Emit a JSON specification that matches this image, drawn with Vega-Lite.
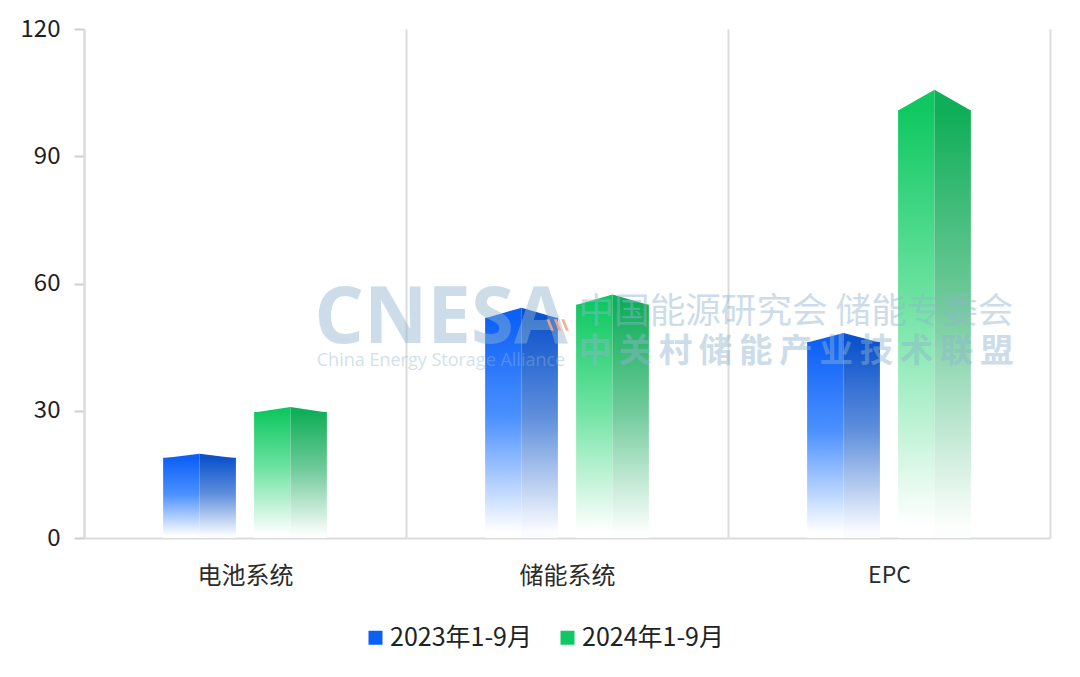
{
"$schema":"https://vega.github.io/schema/vega-lite/v6.json",
"width":966,"height":509,
"autosize":{"type":"none"},
"padding":{"left":84,"top":29,"right":30,"bottom":139},
"background":"white",
"config":{"view":{"stroke":null},"font":"Noto Sans CJK SC"},
"datasets":{
"bars":[
{"category":"电池系统","series":"2023年1-9月","face":"2023L","side":"L","value":18.9,"peak":19.8},
{"category":"电池系统","series":"2023年1-9月","face":"2023R","side":"R","value":18.9,"peak":19.8},
{"category":"电池系统","series":"2024年1-9月","face":"2024L","side":"L","value":29.7,"peak":30.9},
{"category":"电池系统","series":"2024年1-9月","face":"2024R","side":"R","value":29.7,"peak":30.9},
{"category":"储能系统","series":"2023年1-9月","face":"2023L","side":"L","value":51.9,"peak":54.2},
{"category":"储能系统","series":"2023年1-9月","face":"2023R","side":"R","value":51.9,"peak":54.2},
{"category":"储能系统","series":"2024年1-9月","face":"2024L","side":"L","value":55,"peak":57.3},
{"category":"储能系统","series":"2024年1-9月","face":"2024R","side":"R","value":55,"peak":57.3},
{"category":"EPC","series":"2023年1-9月","face":"2023L","side":"L","value":46.2,"peak":48.3},
{"category":"EPC","series":"2023年1-9月","face":"2023R","side":"R","value":46.2,"peak":48.3},
{"category":"EPC","series":"2024年1-9月","face":"2024L","side":"L","value":100.9,"peak":105.6},
{"category":"EPC","series":"2024年1-9月","face":"2024R","side":"R","value":100.9,"peak":105.6}
]},
"encoding":{
"x":{"field":"category","type":"nominal","sort":["电池系统","储能系统","EPC"],
"scale":{"domain":["电池系统","储能系统","EPC"],"paddingInner":0,"paddingOuter":0},
"axis":{"title":null,"labelAngle":0,"tickBand":"extent","grid":true,"gridColor":"#dcdcdc","gridWidth":2,"domainColor":"#dcdcdc","domainWidth":2,"ticks":false,"labelPadding":26,"labelColor":"#2b2b2b","labelFontSize":{"condition":{"test":"datum.label=='EPC'","value":23},"value":24},"labelFont":"Noto Sans CJK SC","zindex":0,
"encode":{"labels":{"update":{"dy":{"signal":"datum.label=='EPC'?-5:0"}}}}}},
"y":{"field":"value","type":"quantitative","scale":{"domain":[0,120],"nice":false},
"axis":{"title":null,"values":[0,30,60,90,120],"grid":false,"domainColor":"#dcdcdc","domainWidth":2,"tickColor":"#cfcfcf","tickWidth":2,"tickSize":10,"labelPadding":14,"labelFontSize":24,"labelColor":"#1f1f1f","labelFont":"Noto Sans CJK SC","zindex":0}}
},
"layer":[
{"data":{"name":"bars"},"transform":[{"filter":"datum.face=='2023L'"}],
"mark":{"type":"bar","width":36.4,"color":{"gradient":"linear","x1":0,"y1":0,"x2":0,"y2":1,"stops":[{"offset":0,"color":"#0d60f6"},{"offset":0.45,"color":"#4a90ff"},{"offset":0.97,"color":"#ffffff"}]}},
"encoding":{"y2":{"datum":0},"xOffset":{"field":"face","type":"nominal","scale":{"domain":["o1","o2","o3","o4","2023L","s1","2023R","s2","s3","2024L","s4","2024R","o5","o6","o7","o8"],"paddingInner":0,"paddingOuter":0.85}}}},
{"data":{"name":"bars"},"transform":[{"filter":"datum.face=='2024L'"}],
"mark":{"type":"bar","width":36.4,"color":{"gradient":"linear","x1":0,"y1":0,"x2":0,"y2":1,"stops":[{"offset":0,"color":"#10c862"},{"offset":0.45,"color":"#6fe3a2"},{"offset":0.97,"color":"#ffffff"}]}},
"encoding":{"y2":{"datum":0},"xOffset":{"field":"face","type":"nominal"}}},
{"data":{"name":"bars"},"transform":[{"filter":"datum.face=='2023R'"}],
"mark":{"type":"bar","width":36.4,"color":{"gradient":"linear","x1":0,"y1":0,"x2":0,"y2":1,"stops":[{"offset":0,"color":"#0b52cc"},{"offset":0.45,"color":"#5f8fdc"},{"offset":0.97,"color":"#fafcff"}]}},
"encoding":{"y2":{"datum":0},"xOffset":{"field":"face","type":"nominal"}}},
{"data":{"name":"bars"},"transform":[{"filter":"datum.face=='2024R'"}],
"mark":{"type":"bar","width":36.4,"color":{"gradient":"linear","x1":0,"y1":0,"x2":0,"y2":1,"stops":[{"offset":0,"color":"#0fae58"},{"offset":0.45,"color":"#6fca9a"},{"offset":0.97,"color":"#fbfefc"}]}},
"encoding":{"y2":{"datum":0},"xOffset":{"field":"face","type":"nominal"}}},
{"data":{"name":"bars"},"transform":[{"filter":"datum.side=='L'"}],"mark":{"type":"point","filled":true,"size":1325,"opacity":1,"strokeWidth":0},
"encoding":{
"xOffset":{"field":"face","type":"nominal"},
"color":{"field":"series","type":"nominal","scale":{"domain":["2023年1-9月","2024年1-9月"],"range":["#0d60f6","#10c862"]},
"legend":{"orient":"none","legendX":279,"legendY":596,"direction":"horizontal","title":null,"symbolType":"square","symbolSize":196,"symbolStrokeWidth":0,"labelFontSize":25,"labelColor":"#222222","labelFont":"Noto Sans CJK SC","columnPadding":23,"labelOffset":2,
"encode":{"symbols":{"update":{"fill":{"signal":"datum.value=='2023年1-9月' ? {gradient:'linear',x1:0,y1:0,x2:0,y2:1,stops:[{offset:0,color:'#0d60f6'},{offset:1,color:'#dbe8fd'}]} : {gradient:'linear',x1:0,y1:0,x2:0,y2:1,stops:[{offset:0,color:'#10c862'},{offset:1,color:'#d8f6e5'}]}"}},"fill":{"signal":"datum.value=='2023年1-9月' ? {gradient:'linear',x1:0,y1:0,x2:0,y2:1,stops:[{offset:0,color:'#0d60f6'},{offset:1,color:'#dbe8fd'}]} : {gradient:'linear',x1:0,y1:0,x2:0,y2:1,stops:[{offset:0,color:'#10c862'},{offset:1,color:'#d8f6e5'}]}"}}}}},
"shape":{"field":"peak","type":"nominal","legend":null,"scale":{"domain":[19.8,30.9,54.2,57.3,48.3,105.6],"range":[
"M-1,0.02L1,-0.22L1,0.02Z","M-1,0.02L1,-0.28L1,0.02Z","M-1,0.02L1,-0.56L1,0.02Z","M-1,0.02L1,-0.56L1,0.02Z","M-1,0.02L1,-0.5L1,0.02Z","M-1,0.02L1,-1.11L1,0.02Z"]}}}},
{"data":{"name":"bars"},"transform":[{"filter":"datum.side=='R'"}],"mark":{"type":"point","filled":true,"size":1325,"opacity":1,"strokeWidth":0},
"encoding":{
"xOffset":{"field":"face","type":"nominal"},
"color":{"field":"series","type":"nominal","legend":null,"scale":{"domain":["2023年1-9月","2024年1-9月"],"range":["#0b52cc","#0fae58"]}},
"shape":{"field":"peak","type":"nominal","legend":null,"scale":{"domain":[19.8,30.9,54.2,57.3,48.3,105.6],"range":[
"M-1,-0.22L1,0.02L-1,0.02Z","M-1,-0.28L1,0.02L-1,0.02Z","M-1,-0.56L1,0.02L-1,0.02Z","M-1,-0.56L1,0.02L-1,0.02Z","M-1,-0.5L1,0.02L-1,0.02Z","M-1,-1.11L1,0.02L-1,0.02Z"]}}}},
{"data":{"values":[{"category":"储能系统","value":51.3,"text":"CNESA"}]},
"mark":{"type":"text","font":"Open Sans","fontWeight":"bold","fontSize":78,"color":"#8fb5d0","opacity":0.45,"dx":-126,"align":"center","baseline":"middle"},
"encoding":{"text":{"field":"text"}}},
{"data":{"values":[{"category":"储能系统","value":41.8,"text":"China Energy Storage Alliance"}]},
"mark":{"type":"text","font":"Open Sans","fontSize":18,"color":"#8fb5d0","opacity":0.4,"dx":-126,"align":"center","baseline":"middle"},
"encoding":{"text":{"field":"text"}}},
{"data":{"values":[{"category":"储能系统","value":53.3,"text":"中国能源研究会  储能专委会"}]},
"mark":{"type":"text","font":"Noto Sans CJK SC","fontSize":35.6,"color":"#8fb5d0","opacity":0.45,"dx":229,"align":"center","baseline":"middle"},
"encoding":{"text":{"field":"text"}}},
{"data":{"values":[{"category":"储能系统","value":43.9,"text":"中\u2009关\u2009村\u2009储\u2009能\u2009产\u2009业\u2009技\u2009术\u2009联\u2009盟"}]},
"mark":{"type":"text","font":"Noto Sans CJK SC","fontSize":33.5,"fontWeight":"bold","color":"#8fb5d0","opacity":0.45,"dx":229,"align":"center","baseline":"middle"},
"encoding":{"text":{"field":"text"}}},
{"data":{"values":[{"category":"储能系统","face":"s2","value":50.2}]},
"mark":{"type":"point","filled":true,"size":529,"strokeWidth":0,"opacity":0.9,"color":"#f4a68a","shape":"M-1,-.5L-.75,-.5L-.35,.5L-.6,.5Z M-.35,-.5L-.1,-.5L.3,.5L.05,.5Z M.3,-.5L.55,-.5L.95,.5L.7,.5Z"},
"encoding":{"xOffset":{"field":"face","type":"nominal"}}}
],
"resolve":{"scale":{"color":"independent","shape":"independent"}}
}
